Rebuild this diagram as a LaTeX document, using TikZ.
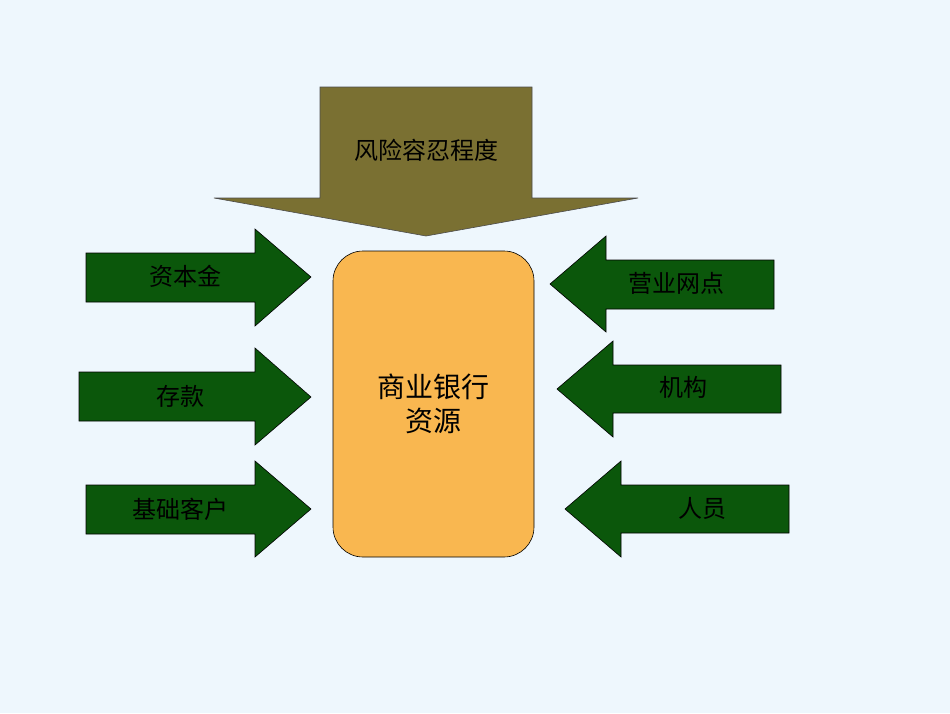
\documentclass[tikz,border=0pt]{standalone}
\usepackage{fontspec}
\setmainfont{Noto Sans CJK SC}
\definecolor{bg}{HTML}{EEF7FD}
\definecolor{olive}{HTML}{7A7032}
\definecolor{dgreen}{HTML}{0B570B}
\definecolor{orangebox}{HTML}{F9B750}
\begin{document}
\begin{tikzpicture}[x=1pt,y=-1pt,
  garrow/.style={fill=dgreen,draw=black,line width=0.6pt},
  lbl/.style={font=\fontsize{24}{28}\selectfont,text=black}]
\fill[bg] (0,0) rectangle (950,713);
\useasboundingbox (0,0) rectangle (950,713);
% top arrow
\draw[fill=olive,draw=black!70,line width=0.6pt] (320,87) -- (532,87) -- (532,198) -- (638,198) -- (426,236) -- (214,198) -- (320,198) -- cycle;
\node[lbl] (top) at (426,150) {风险容忍程度};
% center
\node[draw=black,line width=0.6pt,fill=orangebox,rounded corners=30pt,minimum width=201pt,minimum height=306pt,inner sep=0pt,align=center,font=\fontsize{28}{34}\selectfont] (c) at (433.5,404) {商业银行\\资源};
% left arrows
\draw[garrow] (86,253) -- (255,253) -- (255,229) -- (311,277) -- (255,326) -- (255,302) -- (86,302) -- cycle;
\node[lbl] (a1) at (185,276) {资本金};
\draw[garrow] (79,372) -- (255,372) -- (255,348) -- (311,397) -- (255,445) -- (255,421) -- (79,421) -- cycle;
\node[lbl] (a2) at (180,396) {存款};
\draw[garrow] (86,485) -- (255,485) -- (255,461) -- (311,509) -- (255,557) -- (255,534) -- (86,534) -- cycle;
\node[lbl] (a3) at (180,509) {基础客户};
% right arrows
\draw[garrow] (774,260) -- (606,260) -- (606,236) -- (550,284) -- (606,332) -- (606,309) -- (774,309) -- cycle;
\node[lbl] (b1) at (676,283) {营业网点};
\draw[garrow] (781,365) -- (613,365) -- (613,341) -- (557,389) -- (613,437) -- (613,413) -- (781,413) -- cycle;
\node[lbl] (b2) at (683,387) {机构};
\draw[garrow] (789,485) -- (621,485) -- (621,461) -- (565,509) -- (621,557) -- (621,533) -- (789,533) -- cycle;
\node[lbl] (b3) at (702,508) {人员};
\end{tikzpicture}
\end{document}
